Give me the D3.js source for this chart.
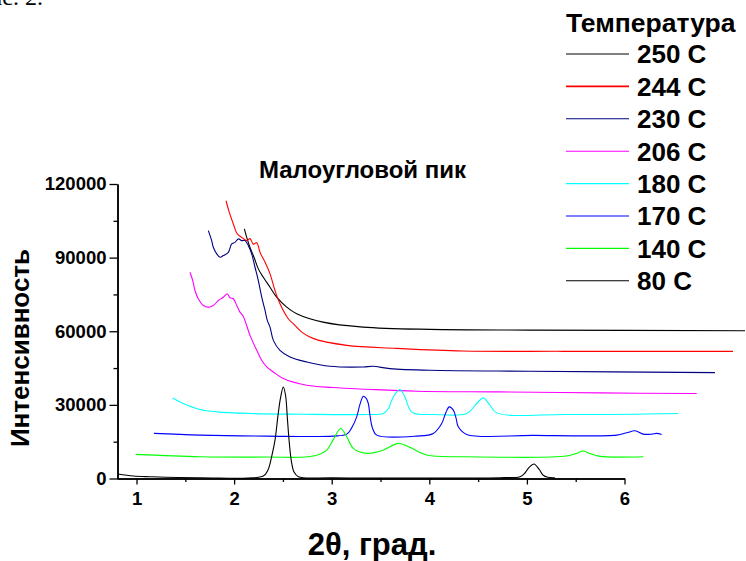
<!DOCTYPE html>
<html>
<head>
<meta charset="utf-8">
<script src="https://cdn.jsdelivr.net/npm/d3@7"></script>
<style>
  html, body { margin: 0; padding: 0; background: #fff; }
  svg { display: block; }
  text { font-family: "Liberation Sans", Arial, sans-serif; font-weight: bold; fill: #000; }
</style>
</head>
<body>
<svg id="chart" width="746" height="561"></svg>
<script>
// Small-angle X-ray scans recorded at several temperatures: [2θ, intensity]
const temps = ["250 C", "244 C", "230 C", "206 C", "180 C", "170 C", "140 C", "80 C"];
const colors = ["#000000", "#ff0000", "#000080", "#ff00ff", "#00ffff", "#0000ff", "#00ff00", "#000000"];

const scan250 = [
  [2.105, 101680], [2.129, 98270], [2.163, 94200], [2.204, 90140], [2.248, 85420],
  [2.299, 82010], [2.368, 77950], [2.436, 73880], [2.539, 69820], [2.641, 67140],
  [2.911, 63720], [3.321, 61690], [4.007, 60760], [5.032, 60470], [7.235, 60230]
];
const scan244 = [
  [1.917, 113180], [1.951, 108430], [1.992, 103710], [2.033, 99650], [2.078, 98270],
  [2.129, 96930], [2.163, 97740], [2.197, 95500], [2.232, 96110], [2.265, 92170],
  [2.317, 88110], [2.368, 83390], [2.419, 76610], [2.470, 71200], [2.555, 65100],
  [2.603, 63200], [2.693, 59660], [2.808, 57100], [3.154, 54250], [3.666, 53040],
  [4.345, 51940], [5.370, 51820], [7.112, 51820]
];
const scan230 = [
  [1.736, 100990], [1.770, 96930], [1.787, 94200], [1.822, 91520], [1.856, 90140],
  [1.889, 90830], [1.941, 92170], [1.975, 95580], [2.009, 96230], [2.043, 97620],
  [2.078, 96930], [2.112, 96930], [2.146, 94890], [2.180, 91520], [2.214, 86080],
  [2.248, 80670], [2.283, 73880], [2.317, 68480], [2.340, 64410], [2.368, 61690],
  [2.402, 56290], [2.470, 52220], [2.573, 49500], [2.744, 47470], [2.983, 45720],
  [3.321, 45440], [3.423, 45720], [3.597, 44790], [4.007, 44090], [5.032, 43690],
  [6.927, 43160]
];
const scan206 = [
  [1.548, 84040], [1.576, 80670], [1.599, 76610], [1.633, 73230], [1.684, 70510],
  [1.736, 69820], [1.787, 70510], [1.838, 72540], [1.889, 73880], [1.930, 75260],
  [1.958, 73640], [1.992, 73230], [2.027, 70510], [2.060, 67790], [2.094, 66040],
  [2.163, 58320], [2.232, 52220], [2.283, 48160], [2.334, 45440], [2.402, 43400],
  [2.504, 40720], [2.744, 38000], [3.013, 37060], [3.359, 36370], [3.871, 35560],
  [4.724, 35280], [5.749, 34870], [6.740, 34620]
];
const scan180 = [
  [1.371, 32840], [1.480, 30560], [1.651, 28120], [1.822, 27150], [2.163, 26500],
  [2.675, 26210], [3.359, 26090], [3.529, 26500], [3.583, 28650], [3.615, 31900],
  [3.656, 34750], [3.700, 36250], [3.724, 35150], [3.751, 33240], [3.785, 29460],
  [3.820, 27030], [3.884, 26210], [4.041, 26090], [4.383, 26500], [4.486, 30560],
  [4.553, 32840], [4.622, 29870], [4.691, 26740], [5.408, 26090], [6.551, 26500]
];
const scan170 = [
  [1.179, 18370], [1.651, 17680], [2.334, 17270], [3.016, 17270], [3.154, 18080],
  [3.203, 20520], [3.256, 25120], [3.290, 30280], [3.324, 33530], [3.352, 32720],
  [3.375, 30560], [3.392, 25810], [3.418, 20520], [3.461, 17680], [3.871, 17270],
  [4.041, 18370], [4.127, 22430], [4.171, 27030], [4.205, 29180], [4.246, 27840],
  [4.274, 24590], [4.297, 21050], [4.383, 17960], [5.066, 17560], [5.920, 17680],
  [6.022, 18610], [6.108, 19430], [6.193, 18080], [6.279, 18080], [6.330, 18370],
  [6.381, 17960]
];
const scan140 = [
  [0.992, 9830], [1.651, 8860], [2.334, 8740], [2.811, 9140], [2.949, 11580],
  [3.013, 15650], [3.092, 20400], [3.154, 16990], [3.221, 12270], [3.359, 10240],
  [3.529, 11580], [3.682, 14310], [3.802, 12680], [3.973, 9550], [4.383, 8860],
  [5.408, 9140], [5.503, 10160], [5.578, 11180], [5.646, 10160], [5.749, 9020],
  [6.193, 8860]
];
const scan80 = [
  [0.810, 1830], [0.967, 1020], [1.138, 730], [1.651, 330], [2.299, 1020],
  [2.347, 3450], [2.388, 9550], [2.419, 15650], [2.450, 25810], [2.475, 32720],
  [2.504, 37310], [2.527, 33930], [2.547, 23770], [2.566, 14310], [2.588, 6710],
  [2.614, 2640], [2.658, 730], [3.013, 330], [4.724, 330], [4.929, 730],
  [4.980, 2240], [5.021, 4470], [5.072, 5890], [5.127, 3660], [5.164, 1420],
  [5.215, 490], [5.287, 330]
];
const scans = [scan250, scan244, scan230, scan206, scan180, scan170, scan140, scan80];

const xMajor = [1, 2, 3, 4, 5, 6];
const xMinor = [1.5, 2.5, 3.5, 4.5, 5.5];
const yMajor = [0, 30000, 60000, 90000, 120000];
const yMinor = [15000, 45000, 75000, 105000];

const svg = d3.select("#chart");

const x = d3.scaleLinear().domain([0.8, 6]).range([117, 624.5]);
const y = d3.scaleLinear().domain([0, 120000]).range([478.5, 184]);

// caption fragment at the page top
svg.append("text")
  .attr("x", 43).attr("y", 5)
  .attr("text-anchor", "end")
  .style("font-family", "'Liberation Serif', 'Times New Roman', serif")
  .style("font-weight", "normal")
  .style("font-size", "24px")
  .text("Рис. 2.");

// axes
const xAxisMinor = d3.axisBottom(x).tickValues(xMinor).tickSize(3.5).tickSizeOuter(0).tickFormat("");
const xAxis = d3.axisBottom(x).tickValues(xMajor).tickSize(6).tickSizeOuter(0).tickPadding(7).tickFormat(d3.format("d"));
const yAxisMinor = d3.axisLeft(y).tickValues(yMinor).tickSize(4).tickSizeOuter(0).tickFormat("");
const yAxis = d3.axisLeft(y).tickValues(yMajor).tickSize(8).tickSizeOuter(0).tickPadding(3).tickFormat(d3.format("d"));

function styleAxis(g) {
  g.select(".domain").attr("stroke", "#000").attr("stroke-width", 1.5);
  g.selectAll(".tick line").attr("stroke", "#000").attr("stroke-width", 1.3);
  g.selectAll(".tick text").style("font-size", "18.5px").style("font-family", "'Liberation Sans', Arial, sans-serif").style("font-weight", "bold").attr("fill", "#000");
}

svg.append("g").attr("transform", "translate(0,478.5)").call(xAxisMinor).call(styleAxis);
svg.append("g").attr("transform", "translate(0,478.5)").call(xAxis).call(styleAxis);
svg.append("g").attr("transform", "translate(117.5,0)").call(yAxisMinor).call(styleAxis);
svg.append("g").attr("transform", "translate(117.5,0)").call(yAxis).call(styleAxis);

// axis titles
svg.append("text")
  .attr("x", 372).attr("y", 555)
  .attr("text-anchor", "middle")
  .style("font-size", "31px")
  .text("2θ, град.");

svg.append("text")
  .attr("transform", "translate(29,348) rotate(-90)")
  .attr("text-anchor", "middle")
  .style("font-size", "26px")
  .text("Интенсивность");

// plot title
svg.append("text")
  .attr("x", 362.5).attr("y", 178)
  .attr("text-anchor", "middle")
  .style("font-size", "24px")
  .text("Малоугловой пик");

// scan curves
const line = d3.line()
  .x(d => x(d[0]))
  .y(d => y(d[1]))
  .curve(d3.curveCatmullRom.alpha(0.5));

svg.append("g")
  .selectAll("path")
  .data(scans)
  .join("path")
  .attr("d", line)
  .attr("fill", "none")
  .attr("stroke", (d, i) => colors[i])
  .attr("stroke-width", 1.1)
  .attr("stroke-linejoin", "round");

// legend
const legend = svg.append("g");
legend.append("text")
  .attr("x", 566).attr("y", 31.5)
  .style("font-size", "26.5px")
  .text("Температура");

const item = legend.selectAll("g.item")
  .data(temps)
  .join("g")
  .attr("class", "item")
  .attr("transform", (d, i) => `translate(0,${54 + i * 32.4})`);

item.append("line")
  .attr("x1", 566).attr("x2", 629)
  .attr("y1", 0).attr("y2", 0)
  .attr("stroke", (d, i) => colors[i])
  .attr("stroke-width", (d, i) => i === 1 ? 1.6 : 1.1);

item.append("text")
  .attr("x", 637).attr("y", 0)
  .attr("dy", "0.36em")
  .style("font-size", "26px")
  .text(d => d);
</script>
</body>
</html>
